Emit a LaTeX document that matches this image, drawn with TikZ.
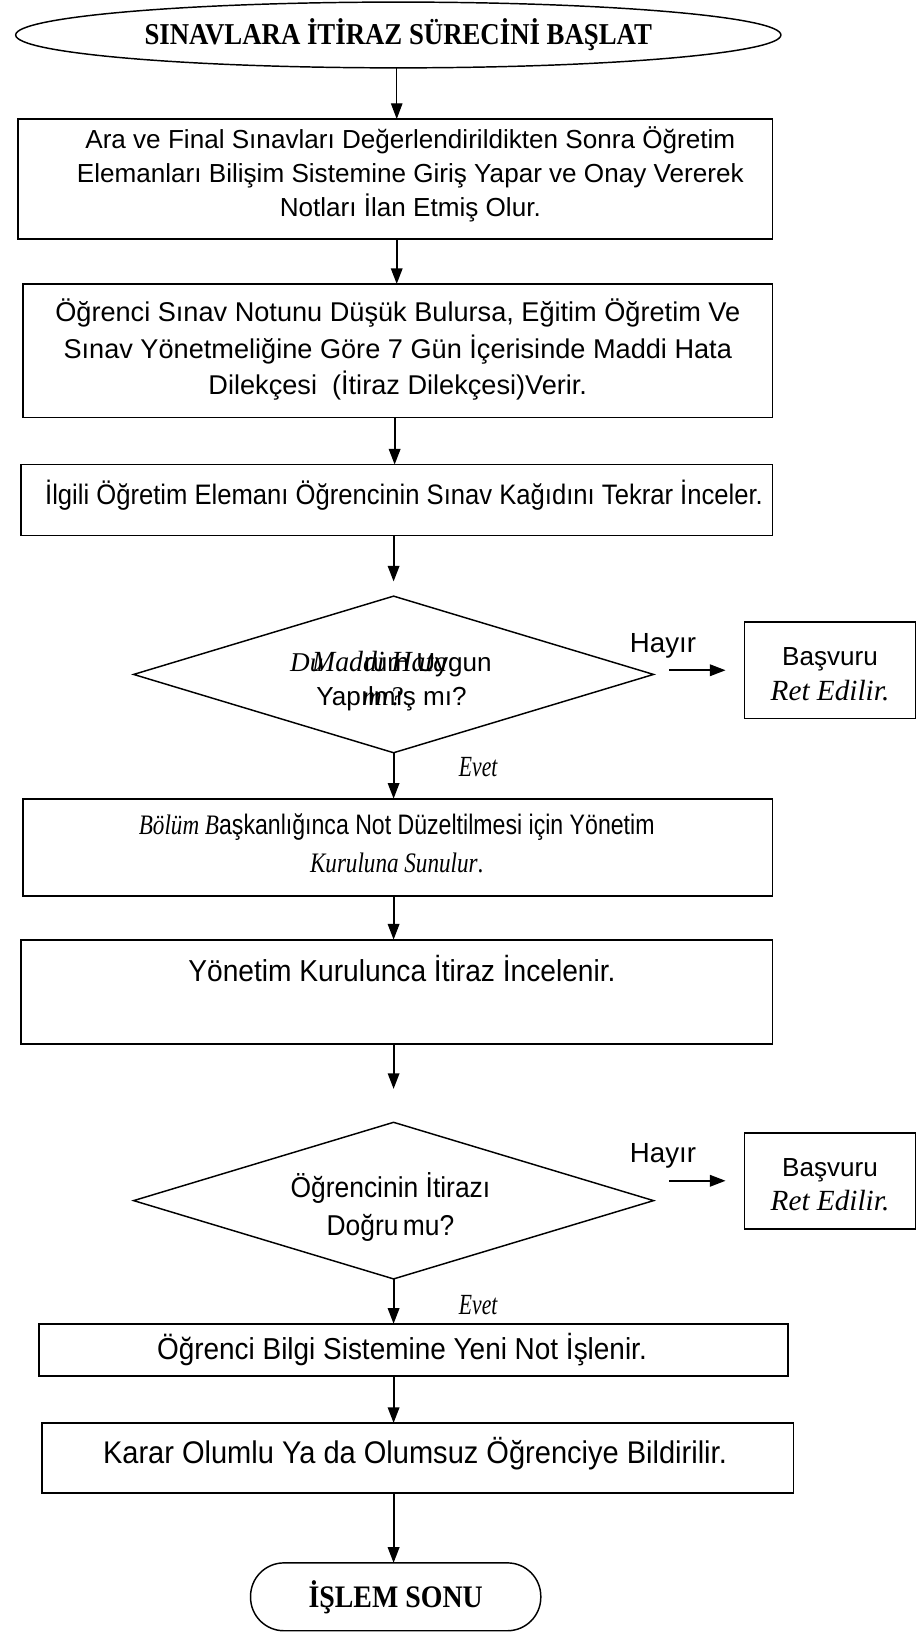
\documentclass[tikz,border=0pt]{standalone}
\usepackage{fontspec}
\setmainfont{Liberation Serif}
\setsansfont{Liberation Sans}
\usetikzlibrary{shapes.geometric,arrows.meta,calc}
\newcommand{\sz}[2]{\fontsize{#1pt}{#2pt}\selectfont}
% narrow a piece of text horizontally
\newcommand{\cond}[2]{\scalebox{#1}[1]{#2}}
\begin{document}
\begin{tikzpicture}[x=1pt,y=-1pt,
  every node/.style={inner sep=0pt, outer sep=0pt},
  procbox/.style={draw, line width=1.7pt, rectangle},
  decide/.style={draw, line width=1.4pt, diamond},
  flow/.style={line width=1.8pt, -{Triangle[length=15pt,width=11pt]}}]
\useasboundingbox (0,0) rectangle (882,1568);

% start terminal
\node[draw, line width=1.4pt, ellipse, minimum width=733pt, minimum height=63pt,
      font=\bfseries\sz{29}{30}] (start) at (381.5,33.5) {\cond{0.885}{SINAVLARA İTİRAZ SÜRECİNİ BAŞLAT}};

% process steps
\node[procbox, minimum width=723pt, minimum height=115pt] (b1) at (378.5,171.5) {};
\node[font=\sffamily\sz{25}{33}, align=center] (t1) at (393,167)
  {Ara ve Final Sınavları Değerlendirildikten Sonra Öğretim\\Elemanları Bilişim Sistemine Giriş Yapar ve Onay Vererek\\Notları İlan Etmiş Olur.};

\node[procbox, minimum width=718pt, minimum height=128pt] (b2) at (381,336) {};
\node[font=\sffamily\sz{26}{35}, align=center] (t2) at (381,335)
  {Öğrenci Sınav Notunu Düşük Bulursa, Eğitim Öğretim Ve\\Sınav Yönetmeliğine Göre 7 Gün İçerisinde Maddi Hata\\Dilekçesi \ (İtiraz Dilekçesi)Verir.};

\node[procbox, minimum width=720pt, minimum height=68pt] (b3) at (380,479) {};
\node[font=\sffamily\sz{27}{28}] (t3) at (387,474)
  {\cond{0.909}{İlgili Öğretim Elemanı Öğrencinin Sınav Kağıdını Tekrar İnceler.}};

% first decision: two overprinted questions
\node[decide, minimum width=498pt, minimum height=150pt] (d1) at (377,646) {};
\node[anchor=base west, font=\itshape\sz{26}{30}] (du) at (278,643) {Du};
\node[anchor=base east, font=\sffamily\sz{25}{30}] (uyg) at (471,643) {rum Uygun};
\node[anchor=base west, font=\itshape\sz{28}{30}] (mh) at (299,643) {\cond{0.95}{Maddi Hata}};
\node[anchor=base west, font=\sffamily\sz{25}{30}] (yap) at (303,676) {Yapılmış mı?};
\node[anchor=base west, font=\itshape\sz{26}{30}] (mi) at (347,676) {mı?};

\node[procbox, line width=1.5pt, minimum width=164pt, minimum height=92pt] (r1) at (795,642) {};
\node[align=center, font=\sz{25}{33}] (r1t) at (795,646) {{\sffamily Başvuru}\\{\itshape\sz{28}{33}Ret Edilir.}};
\node[font=\sffamily\sz{26.5}{28}] (h1) at (635,619) {Hayır};
\node[font=\itshape\sz{28}{28}] (e1) at (458,735) {\cond{0.74}{Evet}};

\node[procbox, minimum width=718pt, minimum height=93pt] (b4) at (381,811.5) {};
\node[font=\sz{27}{36}, align=center] (t4) at (380,808)
  {\cond{0.82}{{\itshape Bölüm B}{\sffamily aşkanlığınca Not Düzeltilmesi için Yönetim}}\\\cond{0.82}{{\itshape Kuruluna Sunulur}.}};

\node[procbox, minimum width=720pt, minimum height=100pt] (b5) at (380,950) {};
\node[font=\sffamily\sz{29}{30}] (t5) at (385,928) {\cond{0.93}{Yönetim Kurulunca İtiraz İncelenir.}};

% second decision
\node[decide, minimum width=498pt, minimum height=150pt] (d2) at (377,1150) {};
\node[font=\sffamily\sz{27.5}{37}, align=center] (d2t) at (374,1156)
  {\cond{0.92}{Öğrencinin İtirazı}\\\cond{0.92}{Doğru\hspace{-3pt} mu?}};

\node[procbox, line width=1.5pt, minimum width=164pt, minimum height=92pt] (r2) at (795,1131) {};
\node[align=center, font=\sz{25}{33}] (r2t) at (795,1135) {{\sffamily Başvuru}\\{\itshape\sz{28}{33}Ret Edilir.}};
\node[font=\sffamily\sz{26.5}{28}] (h2) at (635,1107) {Hayır};
\node[font=\itshape\sz{28}{28}] (e2) at (458,1250) {\cond{0.74}{Evet}};

\node[procbox, minimum width=718pt, minimum height=50pt] (b6) at (396,1293) {};
\node[font=\sffamily\sz{29}{30}] (t6) at (385,1293) {\cond{0.923}{Öğrenci Bilgi Sistemine Yeni Not İşlenir.}};

\node[procbox, minimum width=720pt, minimum height=67pt] (b7) at (400,1396.5) {};
\node[font=\sffamily\sz{30}{30}] (t7) at (397.5,1392) {\cond{0.927}{Karar Olumlu Ya da Olumsuz Öğrenciye Bildirilir.}};

% end terminal
\node[draw, line width=1.4pt, rounded corners=32pt, minimum width=278pt, minimum height=65pt,
      font=\bfseries\sz{30}{30}] (stop) at (379,1529.5) {\cond{0.89}{İŞLEM SONU}};

% connectors
\draw[flow, line width=1.1pt] (start.south -| 380,0) -- (380,0 |- b1.north);
\draw[flow] (380,0 |- b1.south) -- (380,0 |- b2.north);
\draw[flow] (378,0 |- b2.south) -- (378,0 |- b3.north);
\draw[flow, shorten >=14pt] (b3.south -| d1.north) -- (d1.north);
\draw[flow] (d1.south) -- (d1.south |- b4.north);
\draw[flow, shorten <=15pt, shorten >=18pt] (d1.east |- r1.west) -- (r1.west);
\draw[flow] (b4.south -| d1.south) -- (d1.south |- b5.north);
\draw[flow, shorten >=32pt] (b5.south -| d2.north) -- (d2.north);
\draw[flow] (d2.south) -- (d2.south |- b6.north);
\draw[flow, shorten <=15pt, shorten >=18pt] (d2.east |- r2.west) -- (r2.west);
\draw[flow] (b6.south -| d2.south) -- (d2.south |- b7.north);
\draw[flow] (b7.south -| d2.south) -- (d2.south |- stop.north);
\end{tikzpicture}
\end{document}
